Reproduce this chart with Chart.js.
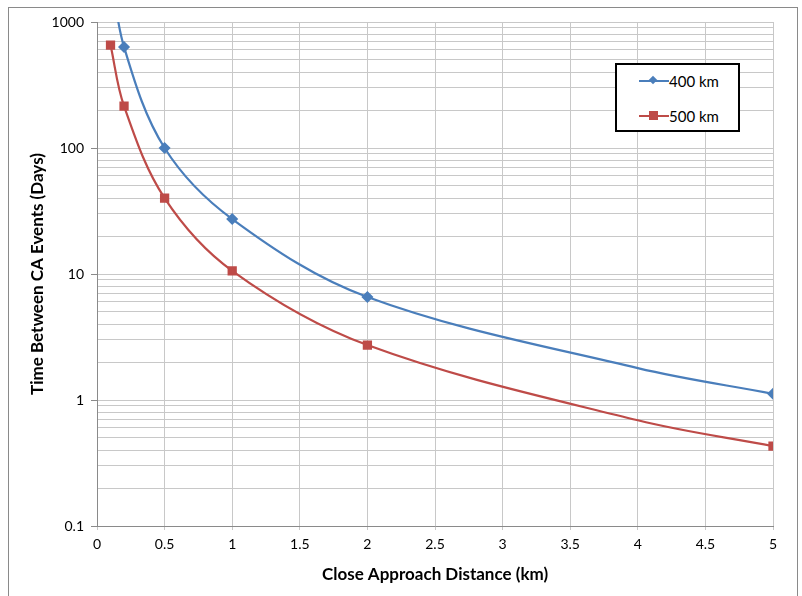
<!DOCTYPE html>
<html>
<head>
<meta charset="utf-8">
<script src="https://cdn.jsdelivr.net/npm/chart.js@4"></script>
<style>
  html, body { margin: 0; padding: 0; background: #fff; }
  #wrap { position: relative; width: 802px; height: 596px; overflow: hidden; font-family: Lato, sans-serif; }
  #frame { position: absolute; left: 8px; top: 7px; width: 788px; height: 620px; border: 1px solid #8a8a8a; }
  #chart { position: absolute; left: 0; top: 0; }
  #legend { position: absolute; left: 615px; top: 63px; width: 121px; height: 65px; border: 2px solid #000; background: #fff; }
  .item { position: absolute; left: 22px; height: 18px; font-size: 15px; line-height: 18px; color: #000; }
  .line { position: absolute; left: 0; top: 8px; width: 30px; height: 2px; }
  .mk { position: absolute; }
  .item span.txt { position: absolute; left: 30px; top: 0; white-space: nowrap; }
</style>
</head>
<body>
<div id="wrap">
  <div id="frame"></div>
  <canvas id="chart" width="802" height="596"></canvas>
  <div id="legend">
    <div class="item" style="top:7px">
      <div class="line" style="background:#4a7ebb"></div>
      <div class="mk" style="left:11px;top:5px;width:6px;height:6px;background:#4a7ebb;transform:rotate(45deg)"></div>
      <span class="txt">400 km</span>
    </div>
    <div class="item" style="top:42px">
      <div class="line" style="background:#be4b48"></div>
      <div class="mk" style="left:10px;top:4px;width:9px;height:9px;background:#be4b48"></div>
      <span class="txt">500 km</span>
    </div>
  </div>
</div>
<script>
// close approach distance (km)
const distance = [0.1, 0.2, 0.5, 1, 2, 4, 5];
// time between CA events (days)
const days400 = [2600, 634, 100, 27.3, 6.57, 1.79, 1.12];
const days500 = [656, 215, 40, 10.6, 2.73, 0.69, 0.43];
// which points carry a visible marker
const marker400 = [false, true, true, true, true, false, true];
const marker500 = [true, true, true, true, true, false, true];
const seriesNames = ['400 km', '500 km'];
const seriesColors = ['#4a7ebb', '#be4b48'];

const xTicks = [0, 0.5, 1, 1.5, 2, 2.5, 3, 3.5, 4, 4.5, 5];
const yDecades = [0.1, 1, 10, 100, 1000];

function isDecade(v) {
  const l = Math.log10(v);
  return Math.abs(l - Math.round(l)) < 1e-9;
}

function logTicks() {
  const out = [];
  for (let i = 0; i < yDecades.length; i++) {
    const d = yDecades[i];
    out.push({ value: d });
    if (i < yDecades.length - 1) {
      for (let m = 2; m <= 9; m++) out.push({ value: d * m });
    }
  }
  return out;
}

const gridColor = '#c8c8c8';

new Chart(document.getElementById('chart'), {
  type: 'line',
  data: {
    datasets: [
      {
        label: seriesNames[0],
        data: distance.map((x, i) => ({ x: x, y: days400[i] })),
        borderColor: seriesColors[0],
        backgroundColor: seriesColors[0],
        borderWidth: 2.2,
        pointStyle: 'rectRot',
        pointRadius: marker400.map(m => m ? 4.5 : 0),
        tension: 0.35
      },
      {
        label: seriesNames[1],
        data: distance.map((x, i) => ({ x: x, y: days500[i] })),
        borderColor: seriesColors[1],
        backgroundColor: seriesColors[1],
        borderWidth: 2.2,
        pointStyle: 'rect',
        pointRadius: marker500.map(m => m ? 5 : 0),
        tension: 0.35
      }
    ]
  },
  options: {
    responsive: false,
    animation: false,
    layout: { padding: { top: 22, right: 29, left: 0, bottom: 0 } },
    plugins: {
      legend: { display: false },
      tooltip: { enabled: false }
    },
    scales: {
      x: {
        type: 'linear',
        min: 0,
        max: 5,
        afterBuildTicks: (scale) => { scale.ticks = xTicks.map(v => ({ value: v })); },
        afterFit: (scale) => { scale.height = 70; },
        ticks: {
          color: '#000',
          font: { family: 'Lato', size: 14 },
          padding: 6,
          maxRotation: 0,
          autoSkip: false,
          callback: (v) => String(v)
        },
        grid: { color: gridColor, tickLength: 4, tickColor: gridColor },
        border: { color: '#8a8a8a' },
        title: {
          display: true,
          text: 'Close Approach Distance (km)',
          color: '#000',
          font: { family: 'Lato', size: 17, weight: 'bold' },
          padding: { top: 4, bottom: 11 }
        }
      },
      y: {
        type: 'logarithmic',
        min: 0.1,
        max: 1000,
        afterBuildTicks: (scale) => { scale.ticks = logTicks(); },
        afterFit: (scale) => { scale.width = 97; },
        ticks: {
          color: '#000',
          font: { family: 'Lato', size: 14 },
          padding: 7,
          autoSkip: false,
          callback: (v) => isDecade(v) ? String(Number(v.toPrecision(6))) : ''
        },
        grid: {
          color: gridColor,
          tickLength: 6,
          tickColor: (ctx) => ctx.tick && isDecade(ctx.tick.value) ? '#8a8a8a' : 'rgba(0,0,0,0)'
        },
        border: { color: '#8a8a8a' },
        title: {
          display: true,
          text: 'Time Between CA Events (Days)',
          color: '#000',
          font: { family: 'Lato', size: 17, weight: 'bold' },
          padding: { top: 27, bottom: 0 }
        }
      }
    }
  }
});
</script>
</body>
</html>
